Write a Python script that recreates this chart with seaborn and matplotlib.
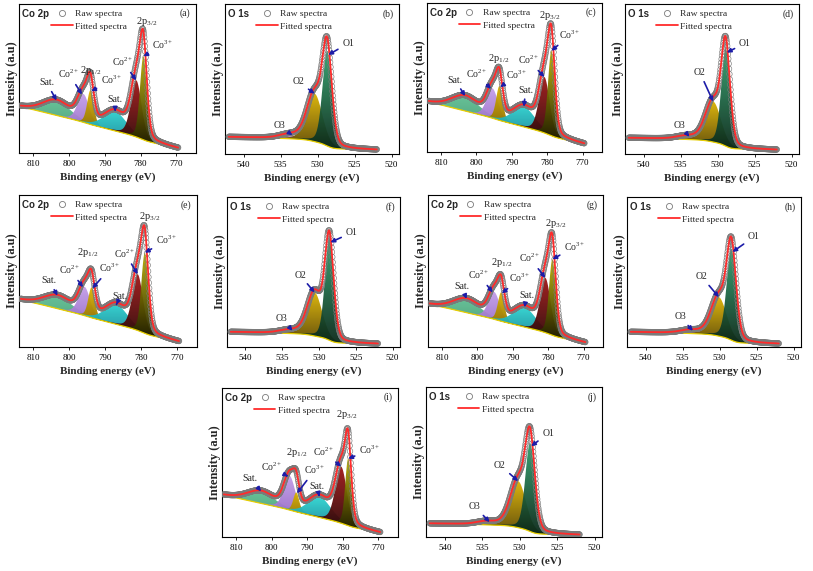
import numpy as np
import pandas as pd
import matplotlib
matplotlib.use("Agg")
import matplotlib.pyplot as plt
import seaborn as sns
from matplotlib.colors import LinearSegmentedColormap
from matplotlib.lines import Line2D

sns.set_theme(style="white")
plt.rcParams["font.family"] = ["Liberation Serif", "DejaVu Serif"]
plt.rcParams["mathtext.fontset"] = "custom"
plt.rcParams["mathtext.rm"] = "Liberation Serif"
plt.rcParams["mathtext.it"] = "Liberation Serif:italic"
plt.rcParams["mathtext.bf"] = "Liberation Serif:bold"

# ---------------- data ----------------
# Co 2p components: [Sat., Co2+ 2p1/2, Co3+ 2p1/2, Sat., Co2+ 2p3/2, Co3+ 2p3/2]
a_centers = [803.5, 796.0, 794.0, 787.1, 781.2, 779.2]
a_heights = [0.10, 0.19, 0.23, 0.13, 0.38, 0.56]
a_fwhm = [9.0, 3.8, 2.2, 7.5, 3.5, 2.3]
a_bg = [0.31, 0.03]

c_centers = [803.2, 795.5, 793.5, 786.6, 780.8, 778.8]
c_heights = [0.10, 0.20, 0.23, 0.135, 0.375, 0.57]
c_fwhm = [9.0, 3.8, 2.2, 7.5, 3.5, 2.3]
c_bg = [0.335, 0.052]

e_centers = [803.3, 795.8, 793.8, 786.9, 781.0, 779.0]
e_heights = [0.085, 0.19, 0.20, 0.13, 0.37, 0.53]
e_fwhm = [9.0, 3.8, 2.2, 7.5, 3.5, 2.3]
e_bg = [0.31, 0.033]

g_centers = [803.1, 795.3, 793.3, 786.7, 780.8, 778.8]
g_heights = [0.09, 0.18, 0.19, 0.13, 0.36, 0.50]
g_fwhm = [9.0, 3.8, 2.2, 7.5, 3.5, 2.3]
g_bg = [0.28, 0.026]

i_centers = [803.0, 795.0, 793.1, 786.6, 780.5, 778.5]
i_heights = [0.08, 0.23, 0.13, 0.14, 0.38, 0.45]
i_fwhm = [9.0, 3.8, 2.0, 7.5, 3.8, 2.0]
i_bg = [0.28, 0.027]

# O 1s components: [O3, O2, O1]
b_centers = [533.8, 530.4, 528.7]
b_heights = [0.025, 0.32, 0.63]
b_fwhm = [3.0, 2.5, 1.5]
b_bg = [0.113, 0.027]

d_centers = [534.2, 530.6, 528.9]
d_heights = [0.02, 0.27, 0.65]
d_fwhm = [3.0, 2.5, 1.4]
d_bg = [0.107, 0.027]

f_centers = [534.0, 530.6, 528.6]
f_heights = [0.02, 0.29, 0.68]
f_fwhm = [3.0, 2.4, 1.4]
f_bg = [0.10, 0.02]

h_centers = [534.0, 530.1, 528.4]
h_heights = [0.02, 0.26, 0.61]
h_fwhm = [3.0, 2.5, 1.5]
h_bg = [0.10, 0.02]

j_centers = [534.4, 530.2, 528.6]
j_heights = [0.02, 0.31, 0.59]
j_fwhm = [3.0, 2.5, 1.5]
j_bg = [0.09, 0.013]

co_range = [769.5, 813.5]
o_range = [522.0, 542.0]
co_ticks = [810, 800, 790, 780, 770]
o_ticks = [540, 535, 530, 525, 520]
co_names = ["Sat.", "Co$^{\\mathrm{2+}}$", "Co$^{\\mathrm{3+}}$", "Sat.",
            "Co$^{\\mathrm{2+}}$", "Co$^{\\mathrm{3+}}$"]
co_peak_names = ["2p$_{\\mathrm{1/2}}$", "2p$_{\\mathrm{3/2}}$"]
o_names = ["O3", "O2", "O1"]

# ---------------- layout / styling ----------------
co_colors = [("#5fbf92", "#3b8a68"), ("#c39ee9", "#8658b8"), ("#dcb400", "#6a5000"),
             ("#2fdad4", "#157a90"), ("#a01616", "#260404"), ("#b8ae00", "#1a1a00")]
o_colors = [("#b585d6", "#7d5fb2"), ("#dab200", "#5a4400"), ("#2fa06c", "#0b2819")]
ARROW = "#1c1ca8"
RED = "#ff2b2b"
RAWC = "#7a7a7a"

# arrow tip shift (eV) from each component centre
co_tip_shift = [0.0, 0.4, -0.2, 0.0, 0.0, 0.0]
o_tip_shift = [-0.4, 0.0, -0.15]

# text positions in axes fraction, per panel (component order)
text_pos = {
    "a": [(0.156, 0.472), (0.283, 0.530), (0.524, 0.490), (0.542, 0.356), (0.588, 0.611), (0.814, 0.725)],
    "c": [(0.160, 0.483), (0.284, 0.523), (0.513, 0.517), (0.564, 0.416), (0.579, 0.617), (0.817, 0.785)],
    "e": [(0.170, 0.436), (0.287, 0.507), (0.511, 0.518), (0.567, 0.331), (0.596, 0.616), (0.830, 0.704)],
    "g": [(0.193, 0.397), (0.291, 0.474), (0.526, 0.452), (0.564, 0.342), (0.583, 0.584), (0.840, 0.660)],
    "i": [(0.159, 0.394), (0.282, 0.468), (0.528, 0.450), (0.538, 0.342), (0.576, 0.572), (0.841, 0.584)],
    "b": [(0.316, 0.187), (0.421, 0.482), (0.709, 0.738)],
    "d": [(0.316, 0.187), (0.431, 0.542), (0.690, 0.738)],
    "f": [(0.316, 0.191), (0.422, 0.480), (0.721, 0.762)],
    "h": [(0.305, 0.202), (0.429, 0.469), (0.730, 0.735)],
    "j": [(0.278, 0.202), (0.420, 0.480), (0.695, 0.691)],
}
peak_pos = {
    "a": [(0.405, 0.552), (0.721, 0.881)],
    "c": [(0.411, 0.629), (0.703, 0.919)],
    "e": [(0.384, 0.620), (0.732, 0.857)],
    "g": [(0.421, 0.555), (0.730, 0.814)],
    "i": [(0.424, 0.566), (0.709, 0.819)],
}

W, H = 813, 571
rects = {
    "a": (19, 196, 4, 153), "b": (225, 399, 4, 154), "c": (427, 602, 3, 152),
    "d": (625, 799, 4, 154), "e": (19, 197, 195, 347), "f": (227, 400, 197, 347),
    "g": (428, 603, 195, 347), "h": (627, 801, 197, 347), "i": (222, 398, 388, 537),
    "j": (426, 602, 387, 537),
}


def pv(x, c, h, w, eta=0.25):
    u = (x - c) / w
    return h * ((1 - eta) * np.exp(-4 * np.log(2) * u ** 2) + eta / (1 + 4 * u ** 2))


def background(x, comps, L, R, a):
    tot = comps.sum(0)
    cum = np.concatenate([[0], np.cumsum((tot[1:] + tot[:-1]) / 2 * np.diff(x))])
    s = cum / cum[-1]
    lin = (x - x[0]) / (x[-1] - x[0])
    return R + (L - R) * (a * lin + (1 - a) * s)


def grad_fill(ax, x, lo, hi, ctop, cbot, z):
    coll = ax.fill_between(x, lo, hi, facecolor="none", edgecolor="none", zorder=z)
    path = coll.get_paths()[0]
    cmap = LinearSegmentedColormap.from_list("g", [cbot, ctop])
    im = ax.imshow(np.linspace(0, 1, 128).reshape(-1, 1), cmap=cmap, aspect="auto",
                   origin="lower", extent=[x.min(), x.max(), lo.min(), hi.max()],
                   zorder=z, alpha=0.95, interpolation="bilinear")
    im.set_clip_path(path, transform=ax.transData)


def panel(key, kind, centers, heights, fwhm, bg):
    l, r, t, b = rects[key]
    ax = fig.add_axes([l / W, (H - b) / H, (r - l) / W, (b - t) / H])
    if kind == "co":
        x = np.arange(co_range[0], co_range[1] + 1e-6, 0.05)
        xr = np.arange(co_range[0], co_range[1] + 1e-6, 0.1)
        colors, shifts, names, a = co_colors, co_tip_shift, co_names, 0.85
    else:
        x = np.arange(o_range[0], o_range[1] + 1e-6, 0.02)
        xr = np.arange(o_range[0], o_range[1] + 1e-6, 0.05)
        colors, shifts, names, a = o_colors, o_tip_shift, o_names, 0.25
    comps = np.array([pv(x, c, h_, w) for c, h_, w in zip(centers, heights, fwhm)])
    base = background(x, comps, bg[0], bg[1], a)
    total = base + comps.sum(0)

    for k in range(len(centers)):
        grad_fill(ax, x, base, base + comps[k], colors[k][0], colors[k][1], 1 + k * 0.01)
    ax.plot(x, base, color="#e8cf00", lw=0.9, zorder=1.5)

    raw = pd.DataFrame({"be": xr, "counts": np.interp(xr, x, total)})
    sns.scatterplot(data=raw, x="be", y="counts", ax=ax, marker="o", s=16,
                    facecolor="none", edgecolor=RAWC, linewidth=0.45, zorder=3)
    ax.collections[-1].set_facecolor("none")
    fit = pd.DataFrame({"be": x, "counts": total})
    sns.lineplot(data=fit, x="be", y="counts", ax=ax, color=RED, lw=1.3,
                 estimator=None, zorder=4)

    for k, (xf, yf) in enumerate(text_pos[key]):
        tx = centers[k] + shifts[k]
        ty = np.interp(tx, x, base + comps[k])
        ax.annotate(names[k], xy=(tx, ty), xycoords="data", xytext=(xf, yf),
                    textcoords="axes fraction", ha="center", va="center", fontsize=7,
                    arrowprops=dict(arrowstyle="-|>", color=ARROW, lw=1.2,
                                    mutation_scale=6, shrinkA=1, shrinkB=0), zorder=6)
    if kind == "co":
        for txt, (xf, yf) in zip(co_peak_names, peak_pos[key]):
            ax.text(xf, yf, txt, transform=ax.transAxes, ha="center", va="center",
                    fontsize=7.5, zorder=6)
        ax.set_xlim(814.0, 764.5)
        ax.set_xticks(co_ticks)
        title = "Co 2p"
    else:
        ax.set_xlim(542.5, 519.0)
        ax.set_xticks(o_ticks)
        title = "O 1s"
    ax.set_ylim(0, 1)
    ax.set_yticks([])
    ax.tick_params(axis="x", labelsize=6.5, length=2, width=0.6, pad=3,
                   direction="out", bottom=True, colors="black")
    for s in ax.spines.values():
        s.set_color("black")
        s.set_linewidth(0.8)
    ax.set_xlabel("Binding energy (eV)", fontsize=8, fontweight="bold", labelpad=3)
    ax.set_ylabel("Intensity (a.u)", fontsize=9, fontweight="bold", labelpad=1)
    ax.text(0.015, 0.935, title, transform=ax.transAxes, ha="left", va="center",
            fontsize=7, fontweight="bold", family="Liberation Sans", zorder=7)
    ax.text(0.97, 0.935, f"({key})", transform=ax.transAxes, ha="right", va="center",
            fontsize=7, zorder=7)
    handles = [Line2D([], [], marker="o", ls="none", mfc="none", mec=RAWC, ms=4.4, mew=0.6),
               Line2D([], [], color=RED, lw=1.3)]
    ax.legend(handles, ["Raw spectra", "Fitted spectra"], loc="upper left",
              bbox_to_anchor=(0.18, 0.965), frameon=False, fontsize=6.8,
              handlelength=2.3, handletextpad=0.25, labelspacing=0.45,
              borderpad=0, borderaxespad=0)
    return ax


fig = plt.figure(figsize=(W / 100, H / 100), dpi=100)
fig.patch.set_facecolor("white")
panel("a", "co", a_centers, a_heights, a_fwhm, a_bg)
panel("b", "o", b_centers, b_heights, b_fwhm, b_bg)
panel("c", "co", c_centers, c_heights, c_fwhm, c_bg)
panel("d", "o", d_centers, d_heights, d_fwhm, d_bg)
panel("e", "co", e_centers, e_heights, e_fwhm, e_bg)
panel("f", "o", f_centers, f_heights, f_fwhm, f_bg)
panel("g", "co", g_centers, g_heights, g_fwhm, g_bg)
panel("h", "o", h_centers, h_heights, h_fwhm, h_bg)
panel("i", "co", i_centers, i_heights, i_fwhm, i_bg)
panel("j", "o", j_centers, j_heights, j_fwhm, j_bg)
fig.savefig("out.png", dpi=100)
